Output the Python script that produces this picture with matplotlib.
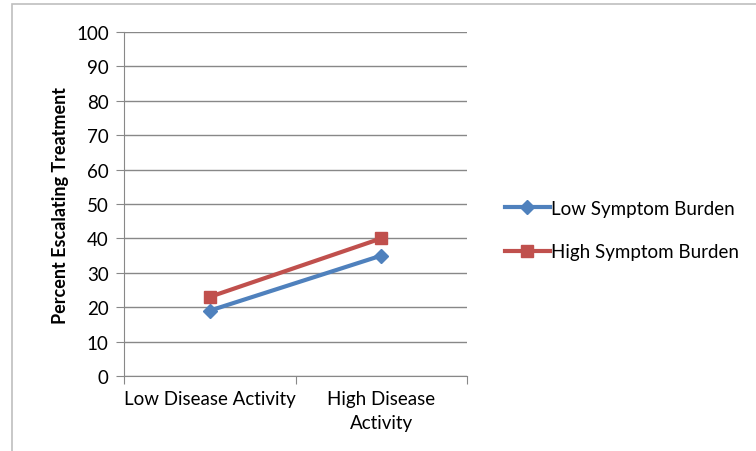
import matplotlib.pyplot as plt
import matplotlib.patches as patches

plt.rcParams['font.family'] = ['Lato', 'DejaVu Sans']

categories = ['Low Disease Activity', 'High Disease\nActivity']
low_symptom = [19, 35]
high_symptom = [23, 40]
y_ticks = list(range(0, 101, 10))

blue = '#4F81BD'
red = '#C0504D'
grid_col = '#888888'

fig = plt.figure(figsize=(7.56, 4.52), dpi=100)
ax = fig.add_axes([124/756, 1 - 377/452, (467 - 124)/756, (377 - 33)/452])

# outer chart border (only the left and top edges are visible)
fig.add_artist(patches.Rectangle((12/756, -0.2), 1.2, 1.2 - 5/452, transform=fig.transFigure,
                                 fill=False, edgecolor='#BFBFBF', linewidth=1.2))

x = [0.5, 1.5]
ax.plot(x, low_symptom, color=blue, linewidth=3, marker='D', markersize=7, label='Low Symptom Burden')
ax.plot(x, high_symptom, color=red, linewidth=3, marker='s', markersize=9, label='High Symptom Burden')

ax.set_xlim(0, 2)
ax.set_ylim(0, 100)
ax.set_yticks(y_ticks)
ax.yaxis.grid(True, color=grid_col, linewidth=1)
ax.set_axisbelow(True)

ax.set_xticks([0, 1, 2])
ax.set_xticklabels([])
ax.set_xticks(x, minor=True)
ax.set_xticklabels(categories, minor=True, fontsize=13.5, linespacing=1.5)
ax.tick_params(axis='x', which='minor', length=0, pad=10)
ax.tick_params(axis='x', which='major', length=6, color=grid_col)
ax.tick_params(axis='y', length=6, color=grid_col, labelsize=13.5, pad=5)

for s in ['top', 'right']:
    ax.spines[s].set_visible(False)
for s in ['left', 'bottom']:
    ax.spines[s].set_color(grid_col)

ax.set_ylabel('Percent Escalating Treatment', fontsize=13, fontweight='bold', labelpad=5)

fig.legend(loc='center left', bbox_to_anchor=(488/756, 1 - 231/452), frameon=False,
           fontsize=13.5, handlelength=2.4, handletextpad=0.05, labelspacing=1.4)

fig.savefig('out.png', dpi=100)
